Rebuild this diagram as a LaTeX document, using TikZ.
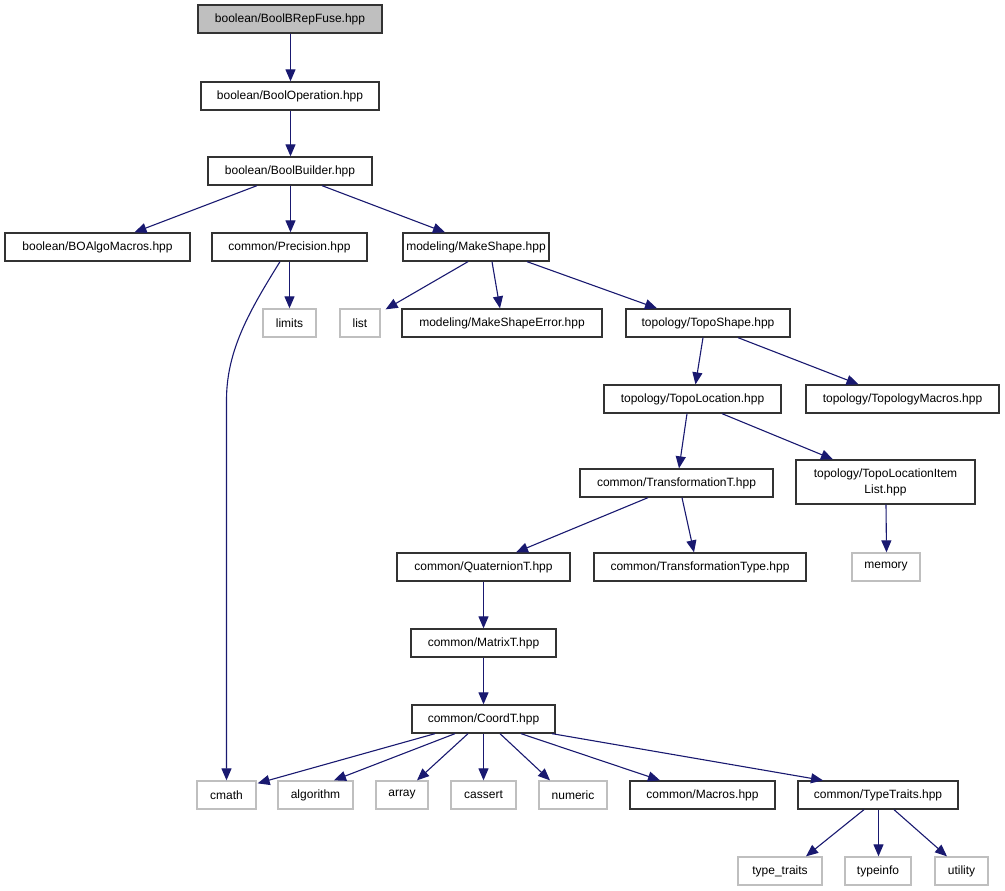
\documentclass[tikz,border=0pt]{standalone}
\usepackage{fontspec}
\setmainfont{Liberation Sans}
\usetikzlibrary{arrows.meta}
\definecolor{edge}{HTML}{191970}
\definecolor{sysgray}{HTML}{BFBFBF}
\begin{document}
\begin{tikzpicture}[x=1pt,y=-1pt,
  box/.style={draw=black!80,line width=1.3pt,inner sep=0pt,minimum height=28pt,font=\fontsize{12}{16}\selectfont,align=center,fill=white},
  sys/.style={box,draw=sysgray},
  root/.style={box,fill=sysgray},
  dep/.style={draw=edge,line width=1.1pt,-{Triangle[length=12pt,width=10pt]}}]
\useasboundingbox (0,0) rectangle (1005,891);
\node[root,minimum width=184pt] (fuse) at (290,19) {boolean/BoolBRepFuse.hpp};
\node[box,minimum width=178pt] (op) at (290,96) {boolean/BoolOperation.hpp};
\node[box,minimum width=164pt] (builder) at (290,171) {boolean/BoolBuilder.hpp};
\node[box,minimum width=185pt] (boalgo) at (97.5,247) {boolean/BOAlgoMacros.hpp};
\node[box,minimum width=155pt] (prec) at (289.5,247) {common/Precision.hpp};
\node[box,minimum width=146pt] (mshape) at (476,247) {modeling/MakeShape.hpp};
\node[sys,minimum width=53pt] (limits) at (289.5,323) {limits};
\node[sys,minimum width=40pt] (list) at (360,323) {list};
\node[box,minimum width=200pt] (mserr) at (502,323) {modeling/MakeShapeError.hpp};
\node[box,minimum width=164pt] (tshape) at (708,323) {topology/TopoShape.hpp};
\node[box,minimum width=177pt] (tloc) at (692.5,399) {topology/TopoLocation.hpp};
\node[box,minimum width=193pt] (tmac) at (902.5,399) {topology/TopologyMacros.hpp};
\node[box,minimum width=193pt] (transT) at (676.5,483) {common/TransformationT.hpp};
\node[box,minimum width=179pt,minimum height=44pt] (item) at (885.5,482) {topology/TopoLocationItem\\List.hpp};
\node[box,minimum width=173pt] (quat) at (483.5,567) {common/QuaternionT.hpp};
\node[box,minimum width=212pt] (ttype) at (700,567) {common/TransformationType.hpp};
\node[sys,minimum width=68pt] (memory) at (886,567) {memory};
\node[box,minimum width=145pt] (matrix) at (483.5,643) {common/MatrixT.hpp};
\node[box,minimum width=143pt] (coord) at (483.5,719) {common/CoordT.hpp};
\node[sys,minimum width=59pt] (cmath) at (226.5,795) {cmath};
\node[sys,minimum width=75pt] (algo) at (315.5,795) {algorithm};
\node[sys,minimum width=52pt] (array) at (402,795) {array};
\node[sys,minimum width=65pt] (cassert) at (483.5,795) {cassert};
\node[sys,minimum width=68pt] (numeric) at (573,795) {numeric};
\node[box,minimum width=145pt] (macros) at (702.5,795) {common/Macros.hpp};
\node[box,minimum width=160pt] (ttraits) at (878,795) {common/TypeTraits.hpp};
\node[sys,minimum width=84pt] (typetr) at (780,871) {type\_traits};
\node[sys,minimum width=66pt] (typeinfo) at (878,871) {typeinfo};
\node[sys,minimum width=53pt] (utility) at (961.5,871) {utility};
\coordinate (pbend) at (226.5,400);

\draw[dep] ([xshift=.5pt]fuse.south) -- ([xshift=.5pt]op.north);
\draw[dep] ([xshift=.5pt]op.south) -- ([xshift=.5pt]builder.north);
\draw[dep] ([xshift=-33pt]builder.south) -- ([xshift=37pt]boalgo.north);
\draw[dep] ([xshift=.5pt]builder.south) -- ([xshift=1pt]prec.north);
\draw[dep] ([xshift=32pt]builder.south) -- ([xshift=-31pt]mshape.north);
\draw[dep] (prec) -- (limits);
\draw[dep] ([xshift=-9.5pt]prec.south) .. controls (250,310) and (226.5,350) .. (pbend) -- (cmath.north);
\draw[dep] ([xshift=-8pt]mshape.south) -- ([xshift=5pt,yshift=-1pt]list.north east);
\draw[dep] ([xshift=16pt]mshape.south) -- ([xshift=-2pt]mserr.north);
\draw[dep] ([xshift=51pt]mshape.south) -- ([xshift=-51pt]tshape.north);
\draw[dep] ([xshift=-5pt]tshape.south) -- ([xshift=3pt]tloc.north);
\draw[dep] ([xshift=30pt]tshape.south) -- ([xshift=-44pt]tmac.north);
\draw[dep] ([xshift=-5.5pt]tloc.south) -- ([xshift=2.5pt]transT.north);
\draw[dep] ([xshift=29.5pt]tloc.south) -- ([xshift=-52.5pt]item.north);
\draw[dep] ([xshift=-28.5pt]transT.south) -- ([xshift=32.5pt]quat.north);
\draw[dep] ([xshift=5.5pt]transT.south) -- ([xshift=-6pt]ttype.north);
\draw[dep] ([xshift=.5pt]item.south) -- ([xshift=.5pt]memory.north);
\draw[dep] (quat) -- (matrix);
\draw[dep] (matrix) -- (coord);
\draw[dep] ([xshift=-48.5pt]coord.south) -- ([xshift=1pt,yshift=-3pt]cmath.north east);
\draw[dep] ([xshift=-28.5pt]coord.south) -- ([xshift=18.5pt]algo.north);
\draw[dep] ([xshift=-15.5pt]coord.south) -- ([xshift=15pt]array.north);
\draw[dep] (coord) -- (cassert);
\draw[dep] ([xshift=16.5pt]coord.south) -- ([xshift=-23pt]numeric.north);
\draw[dep] ([xshift=37.5pt]coord.south) -- ([xshift=-42.5pt]macros.north);
\draw[dep] ([xshift=68.5pt]coord.south) -- ([xshift=-55pt]ttraits.north);
\draw[dep] ([xshift=-14pt]ttraits.south) -- ([xshift=26pt]typetr.north);
\draw[dep] ([xshift=.5pt]ttraits.south) -- ([xshift=.5pt]typeinfo.north);
\draw[dep] ([xshift=16pt]ttraits.south) -- ([xshift=-14.5pt]utility.north);
\end{tikzpicture}
\end{document}
